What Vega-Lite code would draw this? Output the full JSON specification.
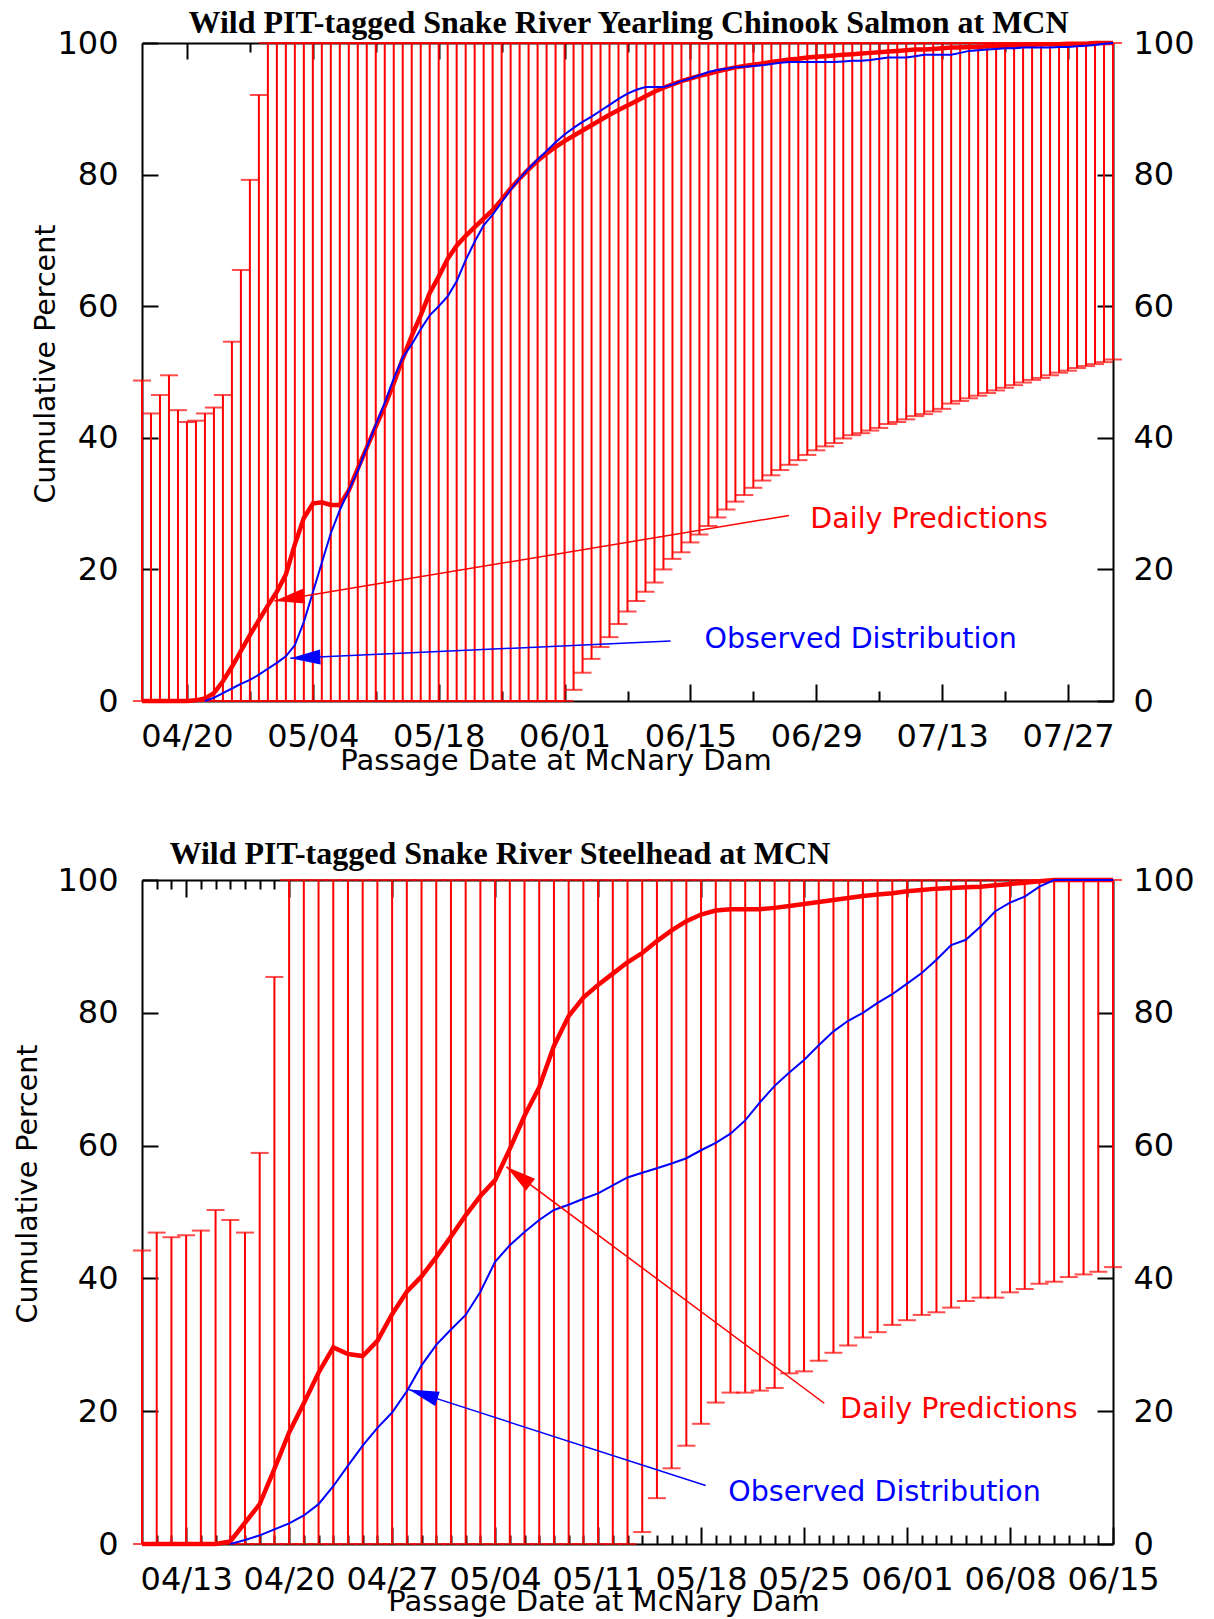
{
  "$schema": "https://vega.github.io/schema/vega-lite/v6.json",
  "padding": {"left": 13, "top": 6, "right": 5, "bottom": 5},
  "spacing": 62,
  "config": {"view": {"stroke": null}, "axis": {"grid": false}, "font": "DejaVu Sans"},
  "datasets": {
    "salmon": [
      {"date":"2009-04-15","lower":0,"upper":48.7,"pred":0,"obs":null},
      {"date":"2009-04-16","lower":0,"upper":43.7,"pred":0,"obs":null},
      {"date":"2009-04-17","lower":0,"upper":46.5,"pred":0,"obs":null},
      {"date":"2009-04-18","lower":0,"upper":49.5,"pred":0,"obs":null},
      {"date":"2009-04-19","lower":0,"upper":44.2,"pred":0,"obs":null},
      {"date":"2009-04-20","lower":0,"upper":42.4,"pred":0,"obs":null},
      {"date":"2009-04-21","lower":0,"upper":42.6,"pred":0.1,"obs":null},
      {"date":"2009-04-22","lower":0,"upper":43.7,"pred":0.4,"obs":0},
      {"date":"2009-04-23","lower":0,"upper":44.6,"pred":1.2,"obs":0.5},
      {"date":"2009-04-24","lower":0,"upper":46.5,"pred":3.0,"obs":1.2},
      {"date":"2009-04-25","lower":0,"upper":54.6,"pred":5.2,"obs":1.9},
      {"date":"2009-04-26","lower":0,"upper":65.5,"pred":7.6,"obs":2.6},
      {"date":"2009-04-27","lower":0,"upper":79.2,"pred":10.0,"obs":3.2},
      {"date":"2009-04-28","lower":0,"upper":92.1,"pred":12.3,"obs":4.0},
      {"date":"2009-04-29","lower":0,"upper":100,"pred":14.5,"obs":4.9},
      {"date":"2009-04-30","lower":0,"upper":100,"pred":16.6,"obs":5.8},
      {"date":"2009-05-01","lower":0,"upper":100,"pred":19.2,"obs":6.8},
      {"date":"2009-05-02","lower":0,"upper":100,"pred":23.8,"obs":8.5},
      {"date":"2009-05-03","lower":0,"upper":100,"pred":27.8,"obs":12.0},
      {"date":"2009-05-04","lower":0,"upper":100,"pred":30.0,"obs":16.5},
      {"date":"2009-05-05","lower":0,"upper":100,"pred":30.2,"obs":21.0},
      {"date":"2009-05-06","lower":0,"upper":100,"pred":29.8,"obs":25.5},
      {"date":"2009-05-07","lower":0,"upper":100,"pred":29.8,"obs":29.0},
      {"date":"2009-05-08","lower":0,"upper":100,"pred":32.0,"obs":32.0},
      {"date":"2009-05-09","lower":0,"upper":100,"pred":35.3,"obs":35.0},
      {"date":"2009-05-10","lower":0,"upper":100,"pred":38.5,"obs":38.5},
      {"date":"2009-05-11","lower":0,"upper":100,"pred":41.7,"obs":42.0},
      {"date":"2009-05-12","lower":0,"upper":100,"pred":44.8,"obs":45.3},
      {"date":"2009-05-13","lower":0,"upper":100,"pred":48.3,"obs":49.0},
      {"date":"2009-05-14","lower":0,"upper":100,"pred":52.0,"obs":52.2},
      {"date":"2009-05-15","lower":0,"upper":100,"pred":55.5,"obs":54.2},
      {"date":"2009-05-16","lower":0,"upper":100,"pred":58.6,"obs":56.5},
      {"date":"2009-05-17","lower":0,"upper":100,"pred":62.0,"obs":58.6},
      {"date":"2009-05-18","lower":0,"upper":100,"pred":64.5,"obs":60.0},
      {"date":"2009-05-19","lower":0,"upper":100,"pred":67.2,"obs":61.5},
      {"date":"2009-05-20","lower":0,"upper":100,"pred":69.2,"obs":63.8},
      {"date":"2009-05-21","lower":0,"upper":100,"pred":70.7,"obs":67.0},
      {"date":"2009-05-22","lower":0,"upper":100,"pred":72.0,"obs":69.8},
      {"date":"2009-05-23","lower":0,"upper":100,"pred":73.3,"obs":72.3},
      {"date":"2009-05-24","lower":0,"upper":100,"pred":74.6,"obs":73.9},
      {"date":"2009-05-25","lower":0,"upper":100,"pred":76.2,"obs":75.8},
      {"date":"2009-05-26","lower":0,"upper":100,"pred":77.9,"obs":77.7},
      {"date":"2009-05-27","lower":0,"upper":100,"pred":79.4,"obs":79.4},
      {"date":"2009-05-28","lower":0,"upper":100,"pred":80.8,"obs":80.9},
      {"date":"2009-05-29","lower":0,"upper":100,"pred":82.1,"obs":82.3},
      {"date":"2009-05-30","lower":0,"upper":100,"pred":83.2,"obs":83.6},
      {"date":"2009-05-31","lower":0,"upper":100,"pred":84.2,"obs":84.9},
      {"date":"2009-06-01","lower":0,"upper":100,"pred":85.1,"obs":86.1},
      {"date":"2009-06-02","lower":1.7,"upper":100,"pred":85.9,"obs":87.1},
      {"date":"2009-06-03","lower":4.3,"upper":100,"pred":86.7,"obs":88.0},
      {"date":"2009-06-04","lower":6.4,"upper":100,"pred":87.5,"obs":88.8},
      {"date":"2009-06-05","lower":8.2,"upper":100,"pred":88.3,"obs":89.7},
      {"date":"2009-06-06","lower":9.7,"upper":100,"pred":89.1,"obs":90.6},
      {"date":"2009-06-07","lower":11.7,"upper":100,"pred":89.8,"obs":91.5},
      {"date":"2009-06-08","lower":13.6,"upper":100,"pred":90.5,"obs":92.3},
      {"date":"2009-06-09","lower":15.2,"upper":100,"pred":91.2,"obs":92.9},
      {"date":"2009-06-10","lower":16.6,"upper":100,"pred":91.9,"obs":93.3},
      {"date":"2009-06-11","lower":18.0,"upper":100,"pred":92.6,"obs":93.3},
      {"date":"2009-06-12","lower":20.0,"upper":100,"pred":93.2,"obs":93.3},
      {"date":"2009-06-13","lower":21.6,"upper":100,"pred":93.7,"obs":93.7},
      {"date":"2009-06-14","lower":22.6,"upper":100,"pred":94.2,"obs":94.2},
      {"date":"2009-06-15","lower":24.1,"upper":100,"pred":94.6,"obs":94.6},
      {"date":"2009-06-16","lower":25.3,"upper":100,"pred":95.0,"obs":95.1},
      {"date":"2009-06-17","lower":26.6,"upper":100,"pred":95.3,"obs":95.6},
      {"date":"2009-06-18","lower":27.9,"upper":100,"pred":95.7,"obs":95.9},
      {"date":"2009-06-19","lower":29.1,"upper":100,"pred":96.0,"obs":96.1},
      {"date":"2009-06-20","lower":30.3,"upper":100,"pred":96.3,"obs":96.3},
      {"date":"2009-06-21","lower":31.3,"upper":100,"pred":96.5,"obs":96.4},
      {"date":"2009-06-22","lower":32.4,"upper":100,"pred":96.7,"obs":96.5},
      {"date":"2009-06-23","lower":33.5,"upper":100,"pred":96.9,"obs":96.6},
      {"date":"2009-06-24","lower":34.3,"upper":100,"pred":97.1,"obs":96.8},
      {"date":"2009-06-25","lower":35.1,"upper":100,"pred":97.3,"obs":97.0},
      {"date":"2009-06-26","lower":35.9,"upper":100,"pred":97.5,"obs":97.1},
      {"date":"2009-06-27","lower":36.6,"upper":100,"pred":97.6,"obs":97.1},
      {"date":"2009-06-28","lower":37.4,"upper":100,"pred":97.8,"obs":97.1},
      {"date":"2009-06-29","lower":38.1,"upper":100,"pred":97.9,"obs":97.1},
      {"date":"2009-06-30","lower":38.7,"upper":100,"pred":98.0,"obs":97.1},
      {"date":"2009-07-01","lower":39.2,"upper":100,"pred":98.1,"obs":97.1},
      {"date":"2009-07-02","lower":39.9,"upper":100,"pred":98.2,"obs":97.2},
      {"date":"2009-07-03","lower":40.4,"upper":100,"pred":98.3,"obs":97.3},
      {"date":"2009-07-04","lower":40.7,"upper":100,"pred":98.4,"obs":97.3},
      {"date":"2009-07-05","lower":41.1,"upper":100,"pred":98.5,"obs":97.4},
      {"date":"2009-07-06","lower":41.5,"upper":100,"pred":98.6,"obs":97.6},
      {"date":"2009-07-07","lower":42.1,"upper":100,"pred":98.7,"obs":97.8},
      {"date":"2009-07-08","lower":42.4,"upper":100,"pred":98.8,"obs":97.8},
      {"date":"2009-07-09","lower":42.8,"upper":100,"pred":98.9,"obs":97.8},
      {"date":"2009-07-10","lower":43.3,"upper":100,"pred":99.0,"obs":98.0},
      {"date":"2009-07-11","lower":43.6,"upper":100,"pred":99.0,"obs":98.2},
      {"date":"2009-07-12","lower":44.0,"upper":100,"pred":99.1,"obs":98.2},
      {"date":"2009-07-13","lower":44.4,"upper":100,"pred":99.2,"obs":98.2},
      {"date":"2009-07-14","lower":45.2,"upper":100,"pred":99.3,"obs":98.2},
      {"date":"2009-07-15","lower":45.6,"upper":100,"pred":99.3,"obs":98.5},
      {"date":"2009-07-16","lower":46.0,"upper":100,"pred":99.4,"obs":98.8},
      {"date":"2009-07-17","lower":46.4,"upper":100,"pred":99.4,"obs":98.9},
      {"date":"2009-07-18","lower":46.8,"upper":100,"pred":99.5,"obs":99.0},
      {"date":"2009-07-19","lower":47.2,"upper":100,"pred":99.5,"obs":99.1},
      {"date":"2009-07-20","lower":47.6,"upper":100,"pred":99.6,"obs":99.2},
      {"date":"2009-07-21","lower":48.0,"upper":100,"pred":99.6,"obs":99.2},
      {"date":"2009-07-22","lower":48.4,"upper":100,"pred":99.7,"obs":99.3},
      {"date":"2009-07-23","lower":48.8,"upper":100,"pred":99.7,"obs":99.3},
      {"date":"2009-07-24","lower":49.1,"upper":100,"pred":99.8,"obs":99.3},
      {"date":"2009-07-25","lower":49.5,"upper":100,"pred":99.8,"obs":99.3},
      {"date":"2009-07-26","lower":49.9,"upper":100,"pred":99.8,"obs":99.4},
      {"date":"2009-07-27","lower":50.2,"upper":100,"pred":99.9,"obs":99.4},
      {"date":"2009-07-28","lower":50.6,"upper":100,"pred":99.9,"obs":99.5},
      {"date":"2009-07-29","lower":50.9,"upper":100,"pred":99.9,"obs":99.6},
      {"date":"2009-07-30","lower":51.2,"upper":100,"pred":100,"obs":99.7},
      {"date":"2009-07-31","lower":51.5,"upper":100,"pred":100,"obs":99.9},
      {"date":"2009-08-01","lower":51.9,"upper":100,"pred":100,"obs":100}
    ],
    "steelhead": [
      {"date":"2009-04-10","lower":0,"upper":44.2,"pred":0,"obs":null},
      {"date":"2009-04-11","lower":0,"upper":46.9,"pred":0,"obs":null},
      {"date":"2009-04-12","lower":0,"upper":46.2,"pred":0,"obs":null},
      {"date":"2009-04-13","lower":0,"upper":46.5,"pred":0,"obs":null},
      {"date":"2009-04-14","lower":0,"upper":47.2,"pred":0,"obs":null},
      {"date":"2009-04-15","lower":0,"upper":50.3,"pred":0,"obs":null},
      {"date":"2009-04-16","lower":0,"upper":48.8,"pred":0.4,"obs":0},
      {"date":"2009-04-17","lower":0,"upper":46.9,"pred":3.2,"obs":0.6},
      {"date":"2009-04-18","lower":0,"upper":58.9,"pred":6.0,"obs":1.3},
      {"date":"2009-04-19","lower":0,"upper":85.4,"pred":11.3,"obs":2.2},
      {"date":"2009-04-20","lower":0,"upper":100,"pred":16.8,"obs":3.1},
      {"date":"2009-04-21","lower":0,"upper":100,"pred":21.2,"obs":4.3},
      {"date":"2009-04-22","lower":0,"upper":100,"pred":25.8,"obs":6.0},
      {"date":"2009-04-23","lower":0,"upper":100,"pred":29.6,"obs":8.7},
      {"date":"2009-04-24","lower":0,"upper":100,"pred":28.6,"obs":11.8},
      {"date":"2009-04-25","lower":0,"upper":100,"pred":28.3,"obs":14.8},
      {"date":"2009-04-26","lower":0,"upper":100,"pred":30.6,"obs":17.5},
      {"date":"2009-04-27","lower":0,"upper":100,"pred":34.6,"obs":19.8},
      {"date":"2009-04-28","lower":0,"upper":100,"pred":38.0,"obs":23.0},
      {"date":"2009-04-29","lower":0,"upper":100,"pred":40.3,"obs":26.9},
      {"date":"2009-04-30","lower":0,"upper":100,"pred":43.2,"obs":30.0},
      {"date":"2009-05-01","lower":0,"upper":100,"pred":46.3,"obs":32.3},
      {"date":"2009-05-02","lower":0,"upper":100,"pred":49.5,"obs":34.5},
      {"date":"2009-05-03","lower":0,"upper":100,"pred":52.4,"obs":38.0},
      {"date":"2009-05-04","lower":0,"upper":100,"pred":54.8,"obs":42.5},
      {"date":"2009-05-05","lower":0,"upper":100,"pred":59.5,"obs":45.0},
      {"date":"2009-05-06","lower":0,"upper":100,"pred":64.5,"obs":47.0},
      {"date":"2009-05-07","lower":0,"upper":100,"pred":68.8,"obs":48.8},
      {"date":"2009-05-08","lower":0,"upper":100,"pred":75.0,"obs":50.3},
      {"date":"2009-05-09","lower":0,"upper":100,"pred":79.5,"obs":51.1},
      {"date":"2009-05-10","lower":0,"upper":100,"pred":82.3,"obs":52.0},
      {"date":"2009-05-11","lower":0,"upper":100,"pred":84.2,"obs":52.8},
      {"date":"2009-05-12","lower":0,"upper":100,"pred":85.9,"obs":54.0},
      {"date":"2009-05-13","lower":0,"upper":100,"pred":87.6,"obs":55.2},
      {"date":"2009-05-14","lower":1.8,"upper":100,"pred":89.0,"obs":55.9},
      {"date":"2009-05-15","lower":6.9,"upper":100,"pred":90.8,"obs":56.6},
      {"date":"2009-05-16","lower":11.4,"upper":100,"pred":92.4,"obs":57.3},
      {"date":"2009-05-17","lower":14.8,"upper":100,"pred":93.8,"obs":58.1},
      {"date":"2009-05-18","lower":18.1,"upper":100,"pred":94.8,"obs":59.3},
      {"date":"2009-05-19","lower":21.3,"upper":100,"pred":95.4,"obs":60.4},
      {"date":"2009-05-20","lower":22.8,"upper":100,"pred":95.6,"obs":61.8},
      {"date":"2009-05-21","lower":22.8,"upper":100,"pred":95.6,"obs":63.8},
      {"date":"2009-05-22","lower":23.1,"upper":100,"pred":95.6,"obs":66.5},
      {"date":"2009-05-23","lower":23.5,"upper":100,"pred":95.8,"obs":69.0},
      {"date":"2009-05-24","lower":25.7,"upper":100,"pred":96.1,"obs":71.0},
      {"date":"2009-05-25","lower":26.0,"upper":100,"pred":96.4,"obs":72.9},
      {"date":"2009-05-26","lower":27.6,"upper":100,"pred":96.7,"obs":75.1},
      {"date":"2009-05-27","lower":28.8,"upper":100,"pred":97.0,"obs":77.2},
      {"date":"2009-05-28","lower":29.9,"upper":100,"pred":97.3,"obs":78.8},
      {"date":"2009-05-29","lower":31.1,"upper":100,"pred":97.6,"obs":80.0},
      {"date":"2009-05-30","lower":31.9,"upper":100,"pred":97.8,"obs":81.5},
      {"date":"2009-05-31","lower":33.0,"upper":100,"pred":98.0,"obs":82.8},
      {"date":"2009-06-01","lower":33.7,"upper":100,"pred":98.3,"obs":84.4},
      {"date":"2009-06-02","lower":34.5,"upper":100,"pred":98.5,"obs":86.0},
      {"date":"2009-06-03","lower":34.9,"upper":100,"pred":98.7,"obs":88.0},
      {"date":"2009-06-04","lower":35.6,"upper":100,"pred":98.8,"obs":90.2},
      {"date":"2009-06-05","lower":36.6,"upper":100,"pred":98.9,"obs":91.0},
      {"date":"2009-06-06","lower":37.1,"upper":100,"pred":99.0,"obs":93.0},
      {"date":"2009-06-07","lower":37.1,"upper":100,"pred":99.2,"obs":95.3},
      {"date":"2009-06-08","lower":37.9,"upper":100,"pred":99.4,"obs":96.6},
      {"date":"2009-06-09","lower":38.4,"upper":100,"pred":99.6,"obs":97.5},
      {"date":"2009-06-10","lower":39.2,"upper":100,"pred":99.8,"obs":99.0},
      {"date":"2009-06-11","lower":39.5,"upper":100,"pred":100,"obs":100},
      {"date":"2009-06-12","lower":40.2,"upper":100,"pred":100,"obs":100},
      {"date":"2009-06-13","lower":40.6,"upper":100,"pred":100,"obs":100},
      {"date":"2009-06-14","lower":41.0,"upper":100,"pred":100,"obs":100},
      {"date":"2009-06-15","lower":41.7,"upper":100,"pred":100,"obs":100}
    ],
    "salmonNotes": [
      {"label":"Daily Predictions","textDate":"2009-06-28T08:00:00Z","textValue":27.7,"fromDate":"2009-06-25T23:00:00Z","fromValue":28.2,"toDate":"2009-04-29T17:30:00Z","toValue":15.2},
      {"label":"Observed Distribution","textDate":"2009-06-16T13:30:00Z","textValue":9.4,"fromDate":"2009-06-12T19:00:00Z","fromValue":9.1,"toDate":"2009-05-01T12:00:00Z","toValue":6.5}
    ],
    "steelheadNotes": [
      {"label":"Daily Predictions","textDate":"2009-05-27T10:45:00Z","textValue":20.4,"fromDate":"2009-05-26T09:00:00Z","fromValue":21.2,"toDate":"2009-05-04T18:30:00Z","toValue":56.8},
      {"label":"Observed Distribution","textDate":"2009-05-19T20:30:00Z","textValue":7.8,"fromDate":"2009-05-18T07:30:00Z","fromValue":8.8,"toDate":"2009-04-28T03:20:00Z","toValue":23.25}
    ]
  },
  "vconcat": [
    {
      "width": 971,
      "height": 658,
      "title": {"text": "Wild PIT-tagged Snake River Yearling Chinook Salmon at MCN", "anchor": "middle", "frame": "group", "dx": 1, "baseline": "alphabetic", "offset": -37.5, "font": "Liberation Serif", "fontSize": 32, "fontWeight": "bold", "color": "black"},
      "data": {"name": "salmon"},
      "resolve": {"axis": {"x": "independent", "y": "independent"}},
      "layer": [
        {
          "mark": {"type": "rule", "color": "#ff0000", "strokeWidth": 2},
          "encoding": {
            "x": {"field": "date", "type": "temporal",
                  "scale": {"type": "utc", "nice": false, "domain": [{"year":2009,"month":4,"date":15,"utc":true},{"year":2009,"month":8,"date":1,"utc":true}]},
                  "axis": {"orient": "bottom", "values": [{"year":2009,"month":4,"date":20,"utc":true},{"year":2009,"month":5,"date":4,"utc":true},{"year":2009,"month":5,"date":18,"utc":true},{"year":2009,"month":6,"date":1,"utc":true},{"year":2009,"month":6,"date":15,"utc":true},{"year":2009,"month":6,"date":29,"utc":true},{"year":2009,"month":7,"date":13,"utc":true},{"year":2009,"month":7,"date":27,"utc":true}],
                           "labelExpr": "utcFormat(datum.value, '%m/%d')", "tickSize": -17, "tickWidth": 2, "tickColor": "black", "domain": true, "domainColor": "black", "domainWidth": 2,
                           "labelFont": "DejaVu Sans", "labelFontSize": 32, "labelColor": "black", "labelPadding": 37.6, "labelFlush": false, "labelOverlap": false,
                           "title": "Passage Date at McNary Dam", "titleFont": "DejaVu Sans", "titleFontSize": 29, "titleFontWeight": "normal", "titleColor": "black", "titleX": 413.5, "titleY": 59.3, "titleAlign": "center", "titleBaseline": "middle"}},
            "y": {"field": "lower", "type": "quantitative", "scale": {"domain": [0, 100], "nice": false},
                  "axis": {"orient": "left", "values": [0, 20, 40, 60, 80, 100], "tickSize": -16, "tickWidth": 2, "tickColor": "black", "domain": true, "domainColor": "black", "domainWidth": 2,
                           "labelFont": "DejaVu Sans", "labelFontSize": 32, "labelColor": "black", "labelPadding": 40,
                           "title": "Cumulative Percent", "titleFont": "DejaVu Sans", "titleFontSize": 28.5, "titleFontWeight": "normal", "titleColor": "black", "titleX": -97, "titleY": 320.6, "titleAngle": 270, "titleAlign": "center", "titleBaseline": "middle"}},
            "y2": {"field": "upper"}
          }
        },
        {
          "mark": {"type": "tick", "orient": "horizontal", "color": "#ff0000", "size": 18, "thickness": 2},
          "encoding": {
            "x": {"field": "date", "type": "temporal",
                  "axis": {"orient": "top", "values": [{"year":2009,"month":4,"date":20,"utc":true},{"year":2009,"month":5,"date":4,"utc":true},{"year":2009,"month":5,"date":18,"utc":true},{"year":2009,"month":6,"date":1,"utc":true},{"year":2009,"month":6,"date":15,"utc":true},{"year":2009,"month":6,"date":29,"utc":true},{"year":2009,"month":7,"date":13,"utc":true},{"year":2009,"month":7,"date":27,"utc":true}],
                           "labels": false, "tickSize": -16, "tickWidth": 2, "tickColor": "black", "domain": true, "domainColor": "black", "domainWidth": 2, "title": null}},
            "y": {"field": "upper", "type": "quantitative",
                  "axis": {"orient": "right", "values": [0, 20, 40, 60, 80, 100], "tickSize": -16, "tickWidth": 2, "tickColor": "black", "domain": true, "domainColor": "black", "domainWidth": 2,
                           "labelFont": "DejaVu Sans", "labelFontSize": 32, "labelColor": "black", "labelPadding": 36, "title": null}}
          }
        },
        {
          "mark": {"type": "tick", "orient": "horizontal", "color": "#ff0000", "size": 18, "thickness": 2},
          "encoding": {
            "x": {"field": "date", "type": "temporal",
                  "axis": {"orient": "bottom", "values": [{"year":2009,"month":4,"date":27,"utc":true},{"year":2009,"month":5,"date":11,"utc":true},{"year":2009,"month":5,"date":25,"utc":true},{"year":2009,"month":6,"date":8,"utc":true},{"year":2009,"month":6,"date":22,"utc":true},{"year":2009,"month":7,"date":6,"utc":true},{"year":2009,"month":7,"date":20,"utc":true}],
                           "labels": false, "tickSize": -10, "tickWidth": 2, "tickColor": "black", "domain": false, "title": null}},
            "y": {"field": "lower", "type": "quantitative", "axis": null}
          }
        },
        {
          "mark": {"type": "line", "color": "#ff0000", "strokeWidth": 4.5},
          "encoding": {
            "x": {"field": "date", "type": "temporal",
                  "axis": {"orient": "top", "values": [{"year":2009,"month":4,"date":27,"utc":true},{"year":2009,"month":5,"date":11,"utc":true},{"year":2009,"month":5,"date":25,"utc":true},{"year":2009,"month":6,"date":8,"utc":true},{"year":2009,"month":6,"date":22,"utc":true},{"year":2009,"month":7,"date":6,"utc":true},{"year":2009,"month":7,"date":20,"utc":true}],
                           "labels": false, "tickSize": -9, "tickWidth": 2, "tickColor": "black", "domain": false, "title": null}},
            "y": {"field": "pred", "type": "quantitative", "axis": null}
          }
        },
        {
          "mark": {"type": "line", "color": "#0000ff", "strokeWidth": 2},
          "encoding": {
            "x": {"field": "date", "type": "temporal", "axis": null},
            "y": {"field": "obs", "type": "quantitative", "axis": null}
          }
        },
        {
          "data": {"name": "salmonNotes"},
          "mark": {"type": "rule", "strokeWidth": 1.5},
          "encoding": {
            "x": {"field": "fromDate", "type": "temporal", "axis": null},
            "y": {"field": "fromValue", "type": "quantitative", "axis": null},
            "x2": {"field": "toDate"},
            "y2": {"field": "toValue"},
            "color": {"field": "label", "type": "nominal", "scale": {"domain": ["Daily Predictions", "Observed Distribution"], "range": ["#ff0000", "#0000ff"]}, "legend": null}
          }
        },
        {
          "data": {"name": "salmonNotes"},
          "mark": {"type": "text", "align": "left", "baseline": "middle", "font": "DejaVu Sans", "fontSize": 28.5},
          "encoding": {
            "x": {"field": "textDate", "type": "temporal", "axis": null},
            "y": {"field": "textValue", "type": "quantitative", "axis": null},
            "text": {"field": "label"},
            "color": {"field": "label", "type": "nominal", "legend": null}
          }
        },
        {
          "data": {"name": "salmonNotes"},
          "transform": [{"filter": "datum.label == 'Daily Predictions'"}],
          "mark": {"type": "point", "shape": "M0,0L2,-0.5L2,0.5Z", "size": 900, "filled": true, "opacity": 1, "color": "#ff0000", "angle": -9.45},
          "encoding": {
            "x": {"field": "toDate", "type": "temporal", "axis": null},
            "y": {"field": "toValue", "type": "quantitative", "axis": null}
          }
        },
        {
          "data": {"name": "salmonNotes"},
          "transform": [{"filter": "datum.label == 'Observed Distribution'"}],
          "mark": {"type": "point", "shape": "M0,0L2,-0.5L2,0.5Z", "size": 900, "filled": true, "opacity": 1, "color": "#0000ff", "angle": -2.57},
          "encoding": {
            "x": {"field": "toDate", "type": "temporal", "axis": null},
            "y": {"field": "toValue", "type": "quantitative", "axis": null}
          }
        }
      ]
    },
    {
      "width": 971,
      "height": 664,
      "title": {"text": "Wild PIT-tagged Snake River Steelhead at MCN", "anchor": "start", "frame": "group", "dx": 27.5, "baseline": "alphabetic", "offset": -32, "font": "Liberation Serif", "fontSize": 32, "fontWeight": "bold", "color": "black"},
      "data": {"name": "steelhead"},
      "resolve": {"axis": {"x": "independent", "y": "independent"}},
      "layer": [
        {
          "mark": {"type": "rule", "color": "#ff0000", "strokeWidth": 2},
          "encoding": {
            "x": {"field": "date", "type": "temporal",
                  "scale": {"type": "utc", "nice": false, "domain": [{"year":2009,"month":4,"date":10,"utc":true},{"year":2009,"month":6,"date":15,"utc":true}]},
                  "axis": {"orient": "bottom", "values": [{"year":2009,"month":4,"date":13,"utc":true},{"year":2009,"month":4,"date":20,"utc":true},{"year":2009,"month":4,"date":27,"utc":true},{"year":2009,"month":5,"date":4,"utc":true},{"year":2009,"month":5,"date":11,"utc":true},{"year":2009,"month":5,"date":18,"utc":true},{"year":2009,"month":5,"date":25,"utc":true},{"year":2009,"month":6,"date":1,"utc":true},{"year":2009,"month":6,"date":8,"utc":true},{"year":2009,"month":6,"date":15,"utc":true}],
                           "labelExpr": "utcFormat(datum.value, '%m/%d')", "tickSize": -17, "tickWidth": 2, "tickColor": "black", "domain": true, "domainColor": "black", "domainWidth": 2,
                           "labelFont": "DejaVu Sans", "labelFontSize": 32, "labelColor": "black", "labelPadding": 37.6, "labelFlush": false, "labelOverlap": false,
                           "title": "Passage Date at McNary Dam", "titleFont": "DejaVu Sans", "titleFontSize": 29, "titleFontWeight": "normal", "titleColor": "black", "titleX": 461.5, "titleY": 57.3, "titleAlign": "center", "titleBaseline": "middle"}},
            "y": {"field": "lower", "type": "quantitative", "scale": {"domain": [0, 100], "nice": false},
                  "axis": {"orient": "left", "values": [0, 20, 40, 60, 80, 100], "tickSize": -16, "tickWidth": 2, "tickColor": "black", "domain": true, "domainColor": "black", "domainWidth": 2,
                           "labelFont": "DejaVu Sans", "labelFontSize": 32, "labelColor": "black", "labelPadding": 40,
                           "title": "Cumulative Percent", "titleFont": "DejaVu Sans", "titleFontSize": 28.5, "titleFontWeight": "normal", "titleColor": "black", "titleX": -114.7, "titleY": 303.5, "titleAngle": 270, "titleAlign": "center", "titleBaseline": "middle"}},
            "y2": {"field": "upper"}
          }
        },
        {
          "mark": {"type": "tick", "orient": "horizontal", "color": "#ff0000", "size": 18, "thickness": 2},
          "encoding": {
            "x": {"field": "date", "type": "temporal",
                  "axis": {"orient": "top", "values": [{"year":2009,"month":4,"date":13,"utc":true},{"year":2009,"month":4,"date":20,"utc":true},{"year":2009,"month":4,"date":27,"utc":true},{"year":2009,"month":5,"date":4,"utc":true},{"year":2009,"month":5,"date":11,"utc":true},{"year":2009,"month":5,"date":18,"utc":true},{"year":2009,"month":5,"date":25,"utc":true},{"year":2009,"month":6,"date":1,"utc":true},{"year":2009,"month":6,"date":8,"utc":true}],
                           "labels": false, "tickSize": -17, "tickWidth": 2, "tickColor": "black", "domain": true, "domainColor": "black", "domainWidth": 2, "title": null}},
            "y": {"field": "upper", "type": "quantitative",
                  "axis": {"orient": "right", "values": [0, 20, 40, 60, 80, 100], "tickSize": -16, "tickWidth": 2, "tickColor": "black", "domain": true, "domainColor": "black", "domainWidth": 2,
                           "labelFont": "DejaVu Sans", "labelFontSize": 32, "labelColor": "black", "labelPadding": 36, "title": null}}
          }
        },
        {
          "mark": {"type": "tick", "orient": "horizontal", "color": "#ff0000", "size": 18, "thickness": 2},
          "encoding": {
            "x": {"field": "date", "type": "temporal",
                  "axis": {"orient": "bottom", "values": [
                    {"year":2009,"month":4,"date":11,"utc":true},{"year":2009,"month":4,"date":12,"utc":true},{"year":2009,"month":4,"date":14,"utc":true},{"year":2009,"month":4,"date":15,"utc":true},{"year":2009,"month":4,"date":16,"utc":true},{"year":2009,"month":4,"date":17,"utc":true},{"year":2009,"month":4,"date":18,"utc":true},{"year":2009,"month":4,"date":19,"utc":true},
                    {"year":2009,"month":4,"date":21,"utc":true},{"year":2009,"month":4,"date":22,"utc":true},{"year":2009,"month":4,"date":23,"utc":true},{"year":2009,"month":4,"date":24,"utc":true},{"year":2009,"month":4,"date":25,"utc":true},{"year":2009,"month":4,"date":26,"utc":true},
                    {"year":2009,"month":4,"date":28,"utc":true},{"year":2009,"month":4,"date":29,"utc":true},{"year":2009,"month":4,"date":30,"utc":true},{"year":2009,"month":5,"date":1,"utc":true},{"year":2009,"month":5,"date":2,"utc":true},{"year":2009,"month":5,"date":3,"utc":true},
                    {"year":2009,"month":5,"date":5,"utc":true},{"year":2009,"month":5,"date":6,"utc":true},{"year":2009,"month":5,"date":7,"utc":true},{"year":2009,"month":5,"date":8,"utc":true},{"year":2009,"month":5,"date":9,"utc":true},{"year":2009,"month":5,"date":10,"utc":true},
                    {"year":2009,"month":5,"date":12,"utc":true},{"year":2009,"month":5,"date":13,"utc":true},{"year":2009,"month":5,"date":14,"utc":true},{"year":2009,"month":5,"date":15,"utc":true},{"year":2009,"month":5,"date":16,"utc":true},{"year":2009,"month":5,"date":17,"utc":true},
                    {"year":2009,"month":5,"date":19,"utc":true},{"year":2009,"month":5,"date":20,"utc":true},{"year":2009,"month":5,"date":21,"utc":true},{"year":2009,"month":5,"date":22,"utc":true},{"year":2009,"month":5,"date":23,"utc":true},{"year":2009,"month":5,"date":24,"utc":true},
                    {"year":2009,"month":5,"date":26,"utc":true},{"year":2009,"month":5,"date":27,"utc":true},{"year":2009,"month":5,"date":28,"utc":true},{"year":2009,"month":5,"date":29,"utc":true},{"year":2009,"month":5,"date":30,"utc":true},{"year":2009,"month":5,"date":31,"utc":true},
                    {"year":2009,"month":6,"date":2,"utc":true},{"year":2009,"month":6,"date":3,"utc":true},{"year":2009,"month":6,"date":4,"utc":true},{"year":2009,"month":6,"date":5,"utc":true},{"year":2009,"month":6,"date":6,"utc":true},{"year":2009,"month":6,"date":7,"utc":true},
                    {"year":2009,"month":6,"date":9,"utc":true},{"year":2009,"month":6,"date":10,"utc":true},{"year":2009,"month":6,"date":11,"utc":true},{"year":2009,"month":6,"date":12,"utc":true},{"year":2009,"month":6,"date":13,"utc":true},{"year":2009,"month":6,"date":14,"utc":true}],
                           "labels": false, "tickSize": -9, "tickWidth": 2, "tickColor": "black", "domain": false, "title": null}},
            "y": {"field": "lower", "type": "quantitative", "axis": null}
          }
        },
        {
          "mark": {"type": "line", "color": "#ff0000", "strokeWidth": 4.5},
          "encoding": {
            "x": {"field": "date", "type": "temporal",
                  "axis": {"orient": "top", "values": [
                    {"year":2009,"month":4,"date":11,"utc":true},{"year":2009,"month":4,"date":12,"utc":true},{"year":2009,"month":4,"date":14,"utc":true},{"year":2009,"month":4,"date":15,"utc":true},{"year":2009,"month":4,"date":16,"utc":true},{"year":2009,"month":4,"date":17,"utc":true},{"year":2009,"month":4,"date":18,"utc":true},{"year":2009,"month":4,"date":19,"utc":true}],
                           "labels": false, "tickSize": -9, "tickWidth": 2, "tickColor": "black", "domain": false, "title": null}},
            "y": {"field": "pred", "type": "quantitative", "axis": null}
          }
        },
        {
          "mark": {"type": "line", "color": "#0000ff", "strokeWidth": 2},
          "encoding": {
            "x": {"field": "date", "type": "temporal", "axis": null},
            "y": {"field": "obs", "type": "quantitative", "axis": null}
          }
        },
        {
          "data": {"name": "steelheadNotes"},
          "mark": {"type": "rule", "strokeWidth": 1.5},
          "encoding": {
            "x": {"field": "fromDate", "type": "temporal", "axis": null},
            "y": {"field": "fromValue", "type": "quantitative", "axis": null},
            "x2": {"field": "toDate"},
            "y2": {"field": "toValue"},
            "color": {"field": "label", "type": "nominal", "scale": {"domain": ["Daily Predictions", "Observed Distribution"], "range": ["#ff0000", "#0000ff"]}, "legend": null}
          }
        },
        {
          "data": {"name": "steelheadNotes"},
          "mark": {"type": "text", "align": "left", "baseline": "middle", "font": "DejaVu Sans", "fontSize": 28.5},
          "encoding": {
            "x": {"field": "textDate", "type": "temporal", "axis": null},
            "y": {"field": "textValue", "type": "quantitative", "axis": null},
            "text": {"field": "label"},
            "color": {"field": "label", "type": "nominal", "legend": null}
          }
        },
        {
          "data": {"name": "steelheadNotes"},
          "transform": [{"filter": "datum.label == 'Daily Predictions'"}],
          "mark": {"type": "point", "shape": "M0,0L2,-0.5L2,0.5Z", "size": 900, "filled": true, "opacity": 1, "color": "#ff0000", "angle": 36.6},
          "encoding": {
            "x": {"field": "toDate", "type": "temporal", "axis": null},
            "y": {"field": "toValue", "type": "quantitative", "axis": null}
          }
        },
        {
          "data": {"name": "steelheadNotes"},
          "transform": [{"filter": "datum.label == 'Observed Distribution'"}],
          "mark": {"type": "point", "shape": "M0,0L2,-0.5L2,0.5Z", "size": 900, "filled": true, "opacity": 1, "color": "#0000ff", "angle": 17.9},
          "encoding": {
            "x": {"field": "toDate", "type": "temporal", "axis": null},
            "y": {"field": "toValue", "type": "quantitative", "axis": null}
          }
        }
      ]
    }
  ]
}
